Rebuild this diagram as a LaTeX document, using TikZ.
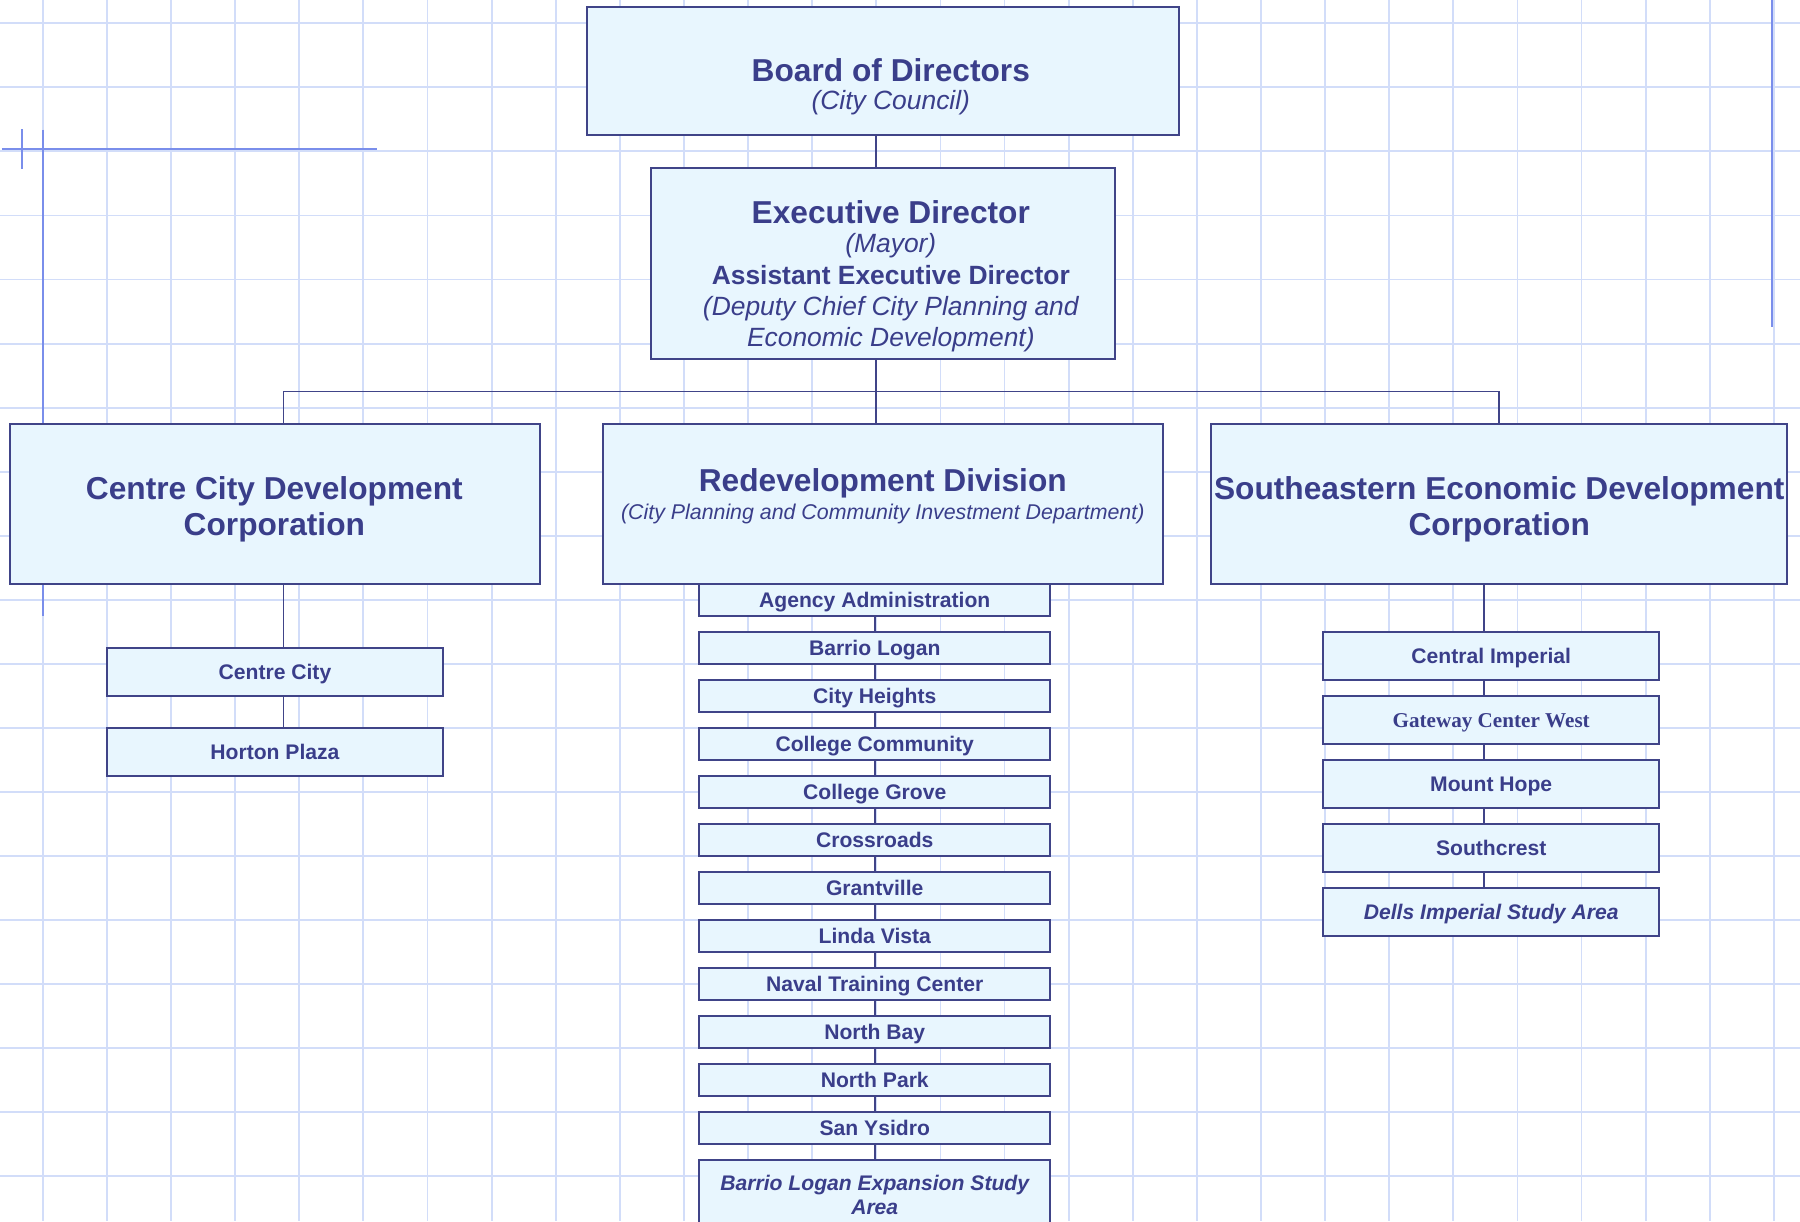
\documentclass[tikz,border=0pt]{standalone}
\usepackage{fontspec}
\setmainfont{Liberation Sans}
\newfontfamily\serifbf{Liberation Serif}
\usetikzlibrary{calc}

\definecolor{navy}{RGB}{58,62,138}
\definecolor{boxline}{RGB}{64,68,136}
\definecolor{boxfill}{RGB}{232,246,254}
\definecolor{gridblue}{RGB}{210,221,249}
\definecolor{markblue}{RGB}{122,142,235}

\newcommand{\boxtitle}[1]{{\fontsize{27.6}{27}\selectfont\bfseries #1}}

\begin{document}
\begin{tikzpicture}[x=1pt, y=-1pt,
  every node/.style={text=navy},
  orgbox/.style={draw=boxline, fill=boxfill, line width=1.8pt, rectangle, inner sep=0pt},
  areabox/.style={orgbox, minimum width=306pt, minimum height=28pt, text height=13.2pt, text depth=0pt, font=\fontsize{18.4}{21}\selectfont\bfseries},
  projectbox/.style={areabox, minimum width=292.5pt, minimum height=42pt},
  studybox/.style={orgbox, minimum width=306pt, minimum height=60pt, align=center, font=\fontsize{18.4}{21}\selectfont\bfseries\itshape},
  headtext/.style={align=center, inner sep=0pt, anchor=base, font=\fontsize{23}{27}\selectfont},
  corptext/.style={align=center, inner sep=0pt, anchor=base, font=\fontsize{27.6}{32.5}\selectfont\bfseries},
  link/.style={draw=boxline, line width=1.6pt},
  gridline/.style={draw=gridblue, line width=1.6pt},
  markline/.style={draw=markblue, line width=2pt}]

\clip (0,0) rectangle (1568,1064);
\fill[white] (0,0) rectangle (1568,1064);

% background grid
\foreach \i in {0,...,27}
  \draw[gridline] ({37.3+55.85*\i},0) -- ({37.3+55.85*\i},1064);
\foreach \j in {0,...,18}
  \draw[gridline] (0,{20.3+55.8*\j}) -- (1568,{20.3+55.8*\j});

% guide marks
\draw[markline] (1.7,130) -- (328,130);
\draw[markline] (19.3,112.5) -- (19.3,147.5);
\draw[markline] (37.3,113) -- (37.3,537);
\draw[markline] (1543.5,0) -- (1543.5,285);

% top levels
\node[orgbox, minimum width=516pt, minimum height=112pt] (board) at (769,62) {};
\node[orgbox, minimum width=404pt, minimum height=167pt] (exec) at (769,229.5) {};
\node[headtext] (boardtext) at (776,95.3) {\boxtitle{Board of Directors}\\[-2.3pt]{\itshape (City Council)}};
\node[headtext] (exectext) at (776,301.5) {\boxtitle{Executive Director}\\[-1.5pt]{\itshape (Mayor)}\\[0.2pt]{\bfseries Assistant Executive Director}\\{\itshape (Deputy Chief City Planning and}\\{\itshape Economic Development)}};

% divisions
\node[orgbox, minimum width=461pt, minimum height=140pt] (ccdc) at (239.5,439) {};
\node[orgbox, minimum width=488pt, minimum height=140pt] (redev) at (769,439) {};
\node[orgbox, minimum width=502pt, minimum height=140pt] (sedc) at (1306,439) {};
\node[corptext] (ccdctext) at (239,466.2) {Centre City Development\\[-1pt]Corporation};
\node[headtext] (redevtext) at (769,452.7) {\boxtitle{Redevelopment Division}\\[-2.1pt]{\fontsize{18.6}{21}\selectfont\itshape (City Planning and Community Investment Department)}};
\node[corptext] (sedctext) at (1306,466.2) {Southeastern Economic Development\\[-1pt]Corporation};

\coordinate (trunk) at (763,341);
\coordinate (busL) at (247,341);
\coordinate (busR) at (1306,341);
\coordinate (sedcline) at (1293,509);
\draw[link] (board.south -| trunk) -- (exec.north -| trunk);
\draw[link] (exec.south -| trunk) -- (redev.north -| trunk);
\draw[link] (busL) -- (busR);
\draw[link] (busL) -- (ccdc.north -| busL);
\draw[link] (busR) -- (sedc.north -| busR);

% Centre City areas
\node[projectbox] (centre) at (239.5,585.3) {Centre City};
\node[projectbox] (horton) at (239.5,655) {Horton Plaza};
\draw[link] (ccdc.south -| busL) -- (centre.north -| busL);
\draw[link] (centre.south -| busL) -- (horton.north -| busL);

% Redevelopment areas
\node[areabox] (agency) at (762,523) {Agency Administration};
\node[areabox] (barrio) at (762,564.8) {Barrio Logan};
\node[areabox] (heights) at (762,606.6) {City Heights};
\node[areabox] (community) at (762,648.4) {College Community};
\node[areabox] (grove) at (762,690.2) {College Grove};
\node[areabox] (crossroads) at (762,732) {Crossroads};
\node[areabox] (grantville) at (762,773.8) {Grantville};
\node[areabox] (linda) at (762,815.6) {Linda Vista};
\node[areabox] (naval) at (762,857.4) {Naval Training Center};
\node[areabox] (northbay) at (762,899.2) {North Bay};
\node[areabox] (northpark) at (762,941) {North Park};
\node[areabox] (ysidro) at (762,982.8) {San Ysidro};
\node[studybox] (expansion) at (762,1040.6) {Barrio Logan Expansion Study\\Area};
\draw[link] (agency.south) -- (barrio.north);
\draw[link] (barrio.south) -- (heights.north);
\draw[link] (heights.south) -- (community.north);
\draw[link] (community.south) -- (grove.north);
\draw[link] (grove.south) -- (crossroads.north);
\draw[link] (crossroads.south) -- (grantville.north);
\draw[link] (grantville.south) -- (linda.north);
\draw[link] (linda.south) -- (naval.north);
\draw[link] (naval.south) -- (northbay.north);
\draw[link] (northbay.south) -- (northpark.north);
\draw[link] (northpark.south) -- (ysidro.north);
\draw[link] (ysidro.south) -- (expansion.north);

% Southeastern areas
\node[projectbox] (central) at (1299,571.4) {Central Imperial};
\node[projectbox] (gateway) at (1299,627.2) {\serifbf\bfseries Gateway Center West};
\node[projectbox] (hope) at (1299,683) {Mount Hope};
\node[projectbox] (southcrest) at (1299,738.8) {Southcrest};
\node[projectbox] (dells) at (1299,794.6) {\itshape Dells Imperial Study Area};
\draw[link] (sedc.south -| sedcline) -- (central.north -| sedcline);
\draw[link] (central.south -| sedcline) -- (gateway.north -| sedcline);
\draw[link] (gateway.south -| sedcline) -- (hope.north -| sedcline);
\draw[link] (hope.south -| sedcline) -- (southcrest.north -| sedcline);
\draw[link] (southcrest.south -| sedcline) -- (dells.north -| sedcline);
\end{tikzpicture}
\end{document}
